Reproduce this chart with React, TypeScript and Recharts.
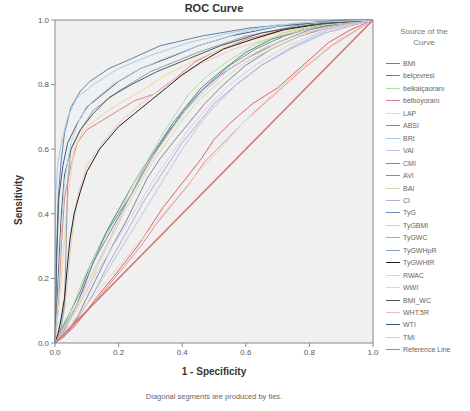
import React from 'react';
import { LineChart, Line, XAxis, YAxis, CartesianGrid, ReferenceLine } from 'recharts';

// ROC points: [1 - specificity, sensitivity]
const bmi = [[0,0],[0.004,0.25],[0.01,0.45],[0.02,0.57],[0.03,0.65],[0.05,0.73],[0.08,0.78],[0.11,0.81],[0.17,0.85],[0.24,0.88],[0.33,0.92],[0.46,0.95],[0.61,0.975],[0.77,0.99],[0.9,1],[1,1]];
const belcevresi = [[0,0],[0.02,0.04],[0.05,0.1],[0.08,0.16],[0.11,0.24],[0.14,0.3],[0.17,0.36],[0.21,0.43],[0.25,0.5],[0.29,0.56],[0.33,0.62],[0.37,0.68],[0.41,0.73],[0.46,0.79],[0.52,0.84],[0.6,0.9],[0.68,0.94],[0.78,0.97],[0.9,0.99],[1,1]];
const belkalca = [[0,0],[0.02,0.05],[0.05,0.1],[0.09,0.2],[0.13,0.28],[0.17,0.35],[0.21,0.42],[0.25,0.5],[0.3,0.58],[0.34,0.65],[0.38,0.71],[0.42,0.77],[0.47,0.82],[0.54,0.87],[0.62,0.92],[0.72,0.96],[0.85,0.99],[1,1]];
const belboy = [[0,0],[0.01,0.1],[0.02,0.3],[0.03,0.45],[0.05,0.55],[0.07,0.62],[0.1,0.66],[0.15,0.69],[0.2,0.72],[0.25,0.75],[0.31,0.77],[0.38,0.82],[0.44,0.87],[0.5,0.9],[0.6,0.94],[0.72,0.97],[0.85,0.99],[1,1]];
const lap = [[0,0],[0.02,0.2],[0.04,0.45],[0.06,0.6],[0.09,0.66],[0.14,0.7],[0.2,0.74],[0.27,0.78],[0.35,0.83],[0.45,0.88],[0.55,0.92],[0.7,0.96],[0.85,0.99],[1,1]];
const absi = [[0,0],[0.05,0.04],[0.1,0.1],[0.13,0.14],[0.18,0.2],[0.22,0.25],[0.26,0.3],[0.3,0.36],[0.34,0.42],[0.38,0.47],[0.42,0.52],[0.46,0.57],[0.5,0.63],[0.55,0.68],[0.62,0.74],[0.7,0.79],[0.78,0.86],[0.86,0.93],[0.93,0.97],[1,1]];
const bri = [[0,0],[0.002,0.45],[0.008,0.55],[0.02,0.62],[0.04,0.7],[0.07,0.76],[0.12,0.8],[0.2,0.85],[0.3,0.89],[0.42,0.93],[0.55,0.96],[0.7,0.985],[1,1]];
const vai = [[0,0],[0.05,0.05],[0.1,0.12],[0.15,0.2],[0.2,0.28],[0.25,0.36],[0.3,0.44],[0.35,0.52],[0.4,0.6],[0.45,0.67],[0.5,0.73],[0.57,0.8],[0.65,0.86],[0.75,0.92],[0.86,0.97],[1,1]];
const cmi = [[0,0],[0.03,0.02],[0.07,0.08],[0.1,0.14],[0.14,0.22],[0.18,0.3],[0.22,0.37],[0.26,0.45],[0.29,0.51],[0.33,0.57],[0.37,0.62],[0.42,0.68],[0.47,0.74],[0.53,0.8],[0.6,0.86],[0.68,0.91],[0.77,0.95],[0.87,0.98],[1,1]];
const avi = [[0,0],[0.02,0.03],[0.04,0.07],[0.07,0.12],[0.1,0.2],[0.13,0.27],[0.16,0.34],[0.2,0.4],[0.24,0.46],[0.27,0.52],[0.31,0.58],[0.35,0.64],[0.39,0.7],[0.43,0.75],[0.48,0.8],[0.55,0.86],[0.63,0.91],[0.72,0.95],[0.82,0.98],[0.92,1],[1,1]];
const bai = [[0,0],[0.03,0.04],[0.06,0.09],[0.1,0.16],[0.14,0.25],[0.18,0.33],[0.22,0.41],[0.26,0.48],[0.3,0.55],[0.35,0.62],[0.4,0.69],[0.45,0.75],[0.52,0.81],[0.6,0.87],[0.7,0.92],[0.82,0.97],[1,1]];
const ci = [[0,0],[0.04,0.03],[0.08,0.09],[0.12,0.15],[0.16,0.23],[0.2,0.3],[0.24,0.37],[0.28,0.44],[0.32,0.5],[0.36,0.56],[0.4,0.62],[0.45,0.68],[0.5,0.74],[0.57,0.8],[0.65,0.86],[0.74,0.91],[0.85,0.96],[1,1]];
const tyg = [[0,0],[0.03,0.04],[0.06,0.1],[0.09,0.17],[0.12,0.25],[0.16,0.32],[0.2,0.39],[0.24,0.46],[0.28,0.53],[0.32,0.6],[0.36,0.66],[0.41,0.72],[0.46,0.78],[0.52,0.83],[0.6,0.88],[0.7,0.93],[0.8,0.97],[0.9,0.99],[1,1]];
const tygbmi = [[0,0],[0.03,0.1],[0.05,0.3],[0.07,0.45],[0.1,0.55],[0.15,0.62],[0.2,0.68],[0.27,0.74],[0.35,0.8],[0.45,0.86],[0.56,0.91],[0.7,0.95],[0.85,0.985],[1,1]];
const tygwc = [[0,0],[0.06,0.05],[0.12,0.12],[0.17,0.18],[0.22,0.24],[0.27,0.3],[0.32,0.37],[0.37,0.43],[0.42,0.49],[0.47,0.56],[0.53,0.62],[0.6,0.69],[0.68,0.76],[0.77,0.84],[0.87,0.92],[1,1]];
const tygwhpr = [[0,0],[0.02,0.05],[0.03,0.12],[0.035,0.3],[0.04,0.5],[0.05,0.6],[0.08,0.66],[0.12,0.72],[0.2,0.78],[0.3,0.84],[0.45,0.9],[0.6,0.95],[0.8,0.99],[1,1]];
const tygwhtr = [[0,0],[0.01,0.03],[0.02,0.08],[0.03,0.14],[0.04,0.25],[0.047,0.32],[0.06,0.4],[0.08,0.47],[0.1,0.53],[0.14,0.6],[0.2,0.67],[0.25,0.71],[0.3,0.75],[0.35,0.79],[0.4,0.83],[0.46,0.87],[0.53,0.91],[0.62,0.94],[0.72,0.97],[0.85,0.99],[1,1]];
const rwac = [[0,0],[0.04,0.06],[0.08,0.13],[0.12,0.2],[0.17,0.28],[0.22,0.36],[0.27,0.44],[0.32,0.52],[0.37,0.59],[0.42,0.66],[0.48,0.73],[0.55,0.8],[0.63,0.86],[0.73,0.92],[0.85,0.97],[1,1]];
const wwi = [[0,0],[0.05,0.06],[0.1,0.12],[0.16,0.19],[0.22,0.26],[0.28,0.33],[0.34,0.4],[0.4,0.47],[0.46,0.54],[0.52,0.6],[0.58,0.67],[0.65,0.74],[0.73,0.81],[0.82,0.89],[0.91,0.95],[1,1]];
const bmiwc = [[0,0],[0.01,0.2],[0.02,0.4],[0.03,0.52],[0.05,0.6],[0.08,0.66],[0.12,0.71],[0.17,0.76],[0.24,0.8],[0.32,0.84],[0.42,0.88],[0.52,0.92],[0.65,0.96],[0.8,0.985],[1,1]];
const wht5r = [[0,0],[0.03,0.05],[0.07,0.12],[0.11,0.2],[0.15,0.28],[0.19,0.36],[0.23,0.44],[0.27,0.51],[0.31,0.58],[0.36,0.65],[0.41,0.72],[0.47,0.78],[0.55,0.85],[0.65,0.91],[0.78,0.96],[1,1]];
const wti = [[0,0],[0.005,0.25],[0.012,0.45],[0.025,0.55],[0.04,0.62],[0.07,0.68],[0.1,0.73],[0.15,0.77],[0.2,0.81],[0.27,0.85],[0.35,0.88],[0.45,0.92],[0.55,0.95],[0.7,0.98],[0.85,0.995],[1,1]];
const tmi = [[0,0],[0.01,0.15],[0.02,0.35],[0.03,0.5],[0.05,0.62],[0.08,0.7],[0.12,0.75],[0.18,0.8],[0.25,0.84],[0.34,0.88],[0.45,0.92],[0.58,0.96],[0.75,0.99],[1,1]];
const refLine = [[0,0],[1,1]];

const names = ['BMI','belçevresi','belkalçaoranı','belboyoranı','LAP','ABSI','BRI','VAI','CMI','AVI','BAI','CI','TyG','TyGBMI','TyGWC','TyGWHpR','TyGWHtR','RWAC','WWI','BMI_WC','WHT.5R','WTI','TMI','Reference Line'];
const curves = [bmi,belcevresi,belkalca,belboy,lap,absi,bri,vai,cmi,avi,bai,ci,tyg,tygbmi,tygwc,tygwhpr,tygwhtr,rwac,wwi,bmiwc,wht5r,wti,tmi,refLine];
const colors = ['#5f82a8','#4f8c88','#b5dca0','#d9828a','#f3d79a','#e0606a','#a9cbe6','#b9c6dc','#8a80a8','#6f9f7a','#c9e2a0','#a8b0d8','#6a88b0','#f0c8b0','#e88a9a','#8aa0b8','#1e1e1e','#d8d0e8','#e6d8c0','#555555','#f0b8c8','#3f5e7e','#b8d8ec','#cf7868'];

const ticks = [0, 0.2, 0.4, 0.6, 0.8, 1];
const font = '"Liberation Sans", Arial, sans-serif';

export default function App() {
  return (
    <div style={{ position: 'absolute', left: 0, top: 0, width: 470, height: 411, background: '#fff', fontFamily: font }}>
      <LineChart width={470} height={411} margin={{ top: 20, right: 97, bottom: 38, left: 0 }}>
        <CartesianGrid fill="#f0f0f0" horizontal={false} vertical={false} />
        <XAxis
          type="number"
          dataKey="x"
          domain={[0, 1]}
          ticks={ticks}
          tickFormatter={(v) => v.toFixed(1)}
          height={30}
          stroke="#888"
          tickSize={4}
          tick={{ fontSize: 8, fill: '#555', fontFamily: font }}
        />
        <YAxis
          type="number"
          domain={[0, 1]}
          ticks={ticks}
          tickFormatter={(v) => v.toFixed(1)}
          width={55}
          stroke="#888"
          tickSize={4}
          tick={{ fontSize: 8, fill: '#555', fontFamily: font }}
        />
        <ReferenceLine y={1} stroke="#888" />
        <ReferenceLine x={1} stroke="#888" />
        {curves.map((c, i) => (
          <Line
            key={names[i]}
            data={c.map(([x, y]) => ({ x, y }))}
            dataKey="y"
            type="linear"
            stroke={colors[i]}
            strokeWidth={i === curves.length - 1 ? 1.6 : 1}
            dot={false}
            isAnimationActive={false}
          />
        ))}
      </LineChart>

      <div style={{ position: 'absolute', left: 55, width: 318, top: 2, textAlign: 'center', fontSize: 11, fontWeight: 'bold', color: '#333' }}>
        ROC Curve
      </div>
      <div style={{ position: 'absolute', left: 18, top: 200, transform: 'translate(-50%, -50%) rotate(-90deg)', fontSize: 10, fontWeight: 'bold', color: '#333', whiteSpace: 'nowrap' }}>
        Sensitivity
      </div>
      <div style={{ position: 'absolute', left: 55, width: 318, top: 366, textAlign: 'center', fontSize: 10, fontWeight: 'bold', color: '#333' }}>
        1 - Specificity
      </div>
      <div style={{ position: 'absolute', left: 55, width: 318, top: 392, textAlign: 'center', fontSize: 7.5, color: '#666' }}>
        Diagonal segments are produced by ties.
      </div>

      <div style={{ position: 'absolute', left: 378, width: 92, top: 26, textAlign: 'center', fontSize: 8, color: '#777', lineHeight: '11px' }}>
        Source of the<br />Curve
      </div>
      {names.map((n, i) => (
        <div key={n} style={{ position: 'absolute', left: 386, top: Math.round(58 + i * 12.45), height: 10, display: 'flex', alignItems: 'center', fontSize: 7, color: '#666', whiteSpace: 'nowrap' }}>
          <span style={{ display: 'inline-block', width: 14, height: 1, background: colors[i], marginRight: 3 }} />
          {n}
        </div>
      ))}
    </div>
  );
}
